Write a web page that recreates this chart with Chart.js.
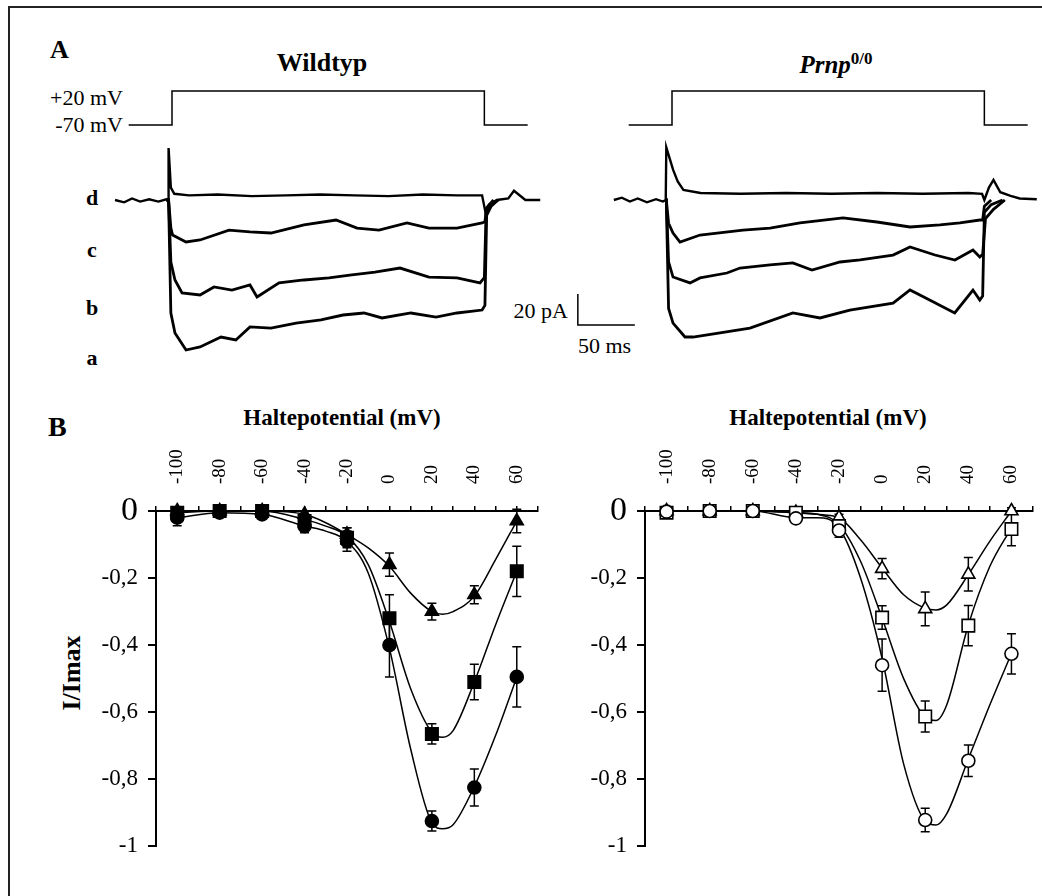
<!DOCTYPE html>
<html>
<head>
<meta charset="utf-8">
<script src="https://cdn.jsdelivr.net/npm/chart.js@4.4.0/dist/chart.umd.min.js"></script>
<style>
  body { margin:0; width:1042px; height:896px; overflow:hidden; background:#fff; position:relative;
         font-family:"Liberation Serif","Times New Roman",serif; color:#000; }
  .frame { position:absolute; left:8px; top:6px; width:1100px; height:1000px;
           border-left:2px solid #222; border-top:2px solid #222; }
  .t { position:absolute; line-height:1; white-space:nowrap; }
  .b { font-weight:bold; }
  canvas { position:absolute; }
</style>
</head>
<body>
<div class="frame"></div>

<div class="t b" style="left:50px;top:37px;font-size:26px">A</div>
<div class="t b" style="left:48px;top:413px;font-size:28px">B</div>
<div class="t b" style="left:222px;top:50px;width:200px;text-align:center;font-size:26px">Wildtyp</div>
<div class="t b" style="left:736px;top:52px;width:200px;text-align:center;font-size:25px"><i>Prnp</i><span style="font-size:17px;position:relative;top:-9px">0/0</span></div>
<div class="t" style="left:0;top:87px;width:123px;text-align:right;font-size:22px">+20 mV</div>
<div class="t" style="left:0;top:114px;width:123px;text-align:right;font-size:22px">-70 mV</div>
<div class="t b" style="left:80px;top:187px;width:24px;text-align:center;font-size:22px">d</div>
<div class="t b" style="left:80px;top:239px;width:24px;text-align:center;font-size:22px">c</div>
<div class="t b" style="left:80px;top:297px;width:24px;text-align:center;font-size:22px">b</div>
<div class="t b" style="left:80px;top:347px;width:24px;text-align:center;font-size:22px">a</div>
<div class="t" style="left:468px;top:300px;width:100px;text-align:right;font-size:22px">20 pA</div>
<div class="t" style="left:578px;top:335px;font-size:22px">50 ms</div>
<div class="t b" style="left:192px;top:406px;width:300px;text-align:center;font-size:23px">Haltepotential (mV)</div>
<div class="t b" style="left:678px;top:406px;width:300px;text-align:center;font-size:23px">Haltepotential (mV)</div>
<div class="t b" style="left:12px;top:660px;width:120px;height:26px;text-align:center;font-size:26px;transform:rotate(-90deg)">I/Imax</div>

<canvas id="traceWt" width="550" height="300" style="left:100px;top:80px"></canvas>
<canvas id="traceKo" width="442" height="300" style="left:600px;top:80px"></canvas>
<canvas id="ivWt" width="520" height="430" style="left:40px;top:440px"></canvas>
<canvas id="ivKo" width="530" height="430" style="left:530px;top:440px"></canvas>

<script>
// ---- panel A: currents (time in ms, current in pA) ----
var protT = [-38, 0, 0, 274, 274, 312];
var protV = [-70, -70, 20, 20, -70, -70];

var wtT_d = [-50,-42,-35,-28,-20,-12,-5,-3.5,-3,-1,2,15,40,70,100,130,160,190,220,250,272,275,278,285,295,300,310,323];
var wtI_d = [0,-1.5,1,-1,0.5,-1,0.5,0,33.5,8,4,3,3.5,2.5,3,3.5,3,2.5,3.5,3,3,-8,-3,0,1,6,0,0];
var wtT_c = [-5,-3,-1,0.5,12.3,24.6,50,68.4,86.8,115.8,143.9,162.3,181.6,206.1,225.4,250,272,274.5,276,282];
var wtI_c = [0,0,-18,-22.6,-27.1,-25.8,-19.4,-20.6,-21.3,-16.1,-12.9,-18.1,-19.4,-14.8,-18.1,-18.1,-14.8,-14,-5,0];
var wtT_b = [-5,-3,-1,2.6,8.8,24.6,36.8,52.6,68.4,74.6,93.9,115.8,137.7,156,178,200,225.4,250,270.2,274,275.5,280,286];
var wtI_b = [0,0,-40,-51.6,-60,-61.3,-56.1,-58.1,-54.8,-62.6,-53.5,-51.6,-50.3,-48.4,-46.5,-43.9,-49.7,-50.3,-53.5,-50,-8,-3,0];
var wtT_a = [-5,-3,-1,2.6,12.3,24.6,43,56,68.4,86.8,108.8,130.7,150,168.4,184.2,209.6,231.6,250,272,274.5,276,280,286];
var wtI_a = [0,0,-73,-85.8,-96.8,-94.8,-88.4,-90.3,-81.9,-82.6,-79.4,-77.4,-74.2,-72.9,-76.1,-72.9,-75.5,-72.9,-71,-68,-10,-4,0];

var koT_d = [-51,-44,-37,-30,-22,-14,-8,-5.5,-5,1,5,10,25,60,100,140,180,220,260,272,274,278,282,288,297,305,320];
var koI_d = [0,1.5,-1,1,-1.5,0.5,-1,0,34,19.4,12,6.5,4.5,4,4.5,4,4.5,4,4.5,4,0,8,13,5,2.6,1,0.5];
var koT_c = [-6,-5,-3,0.9,7,24.6,62.3,86,112.3,150,179.8,208.8,235,252.6,270,272.5,274,280];
var koI_c = [0,0,-15,-21.3,-27.1,-22.6,-19.4,-18.1,-14.8,-11.6,-14.2,-17.4,-16.1,-14.8,-12.9,-13,-4,0];
var koT_b = [-6,-5,-3,0.9,15.8,24.6,48.2,59.6,86,106,122.8,147.4,165,193.9,208.8,230.7,248.2,264,270,272.5,275,282,292];
var koI_b = [0,0,-40,-49.7,-53.5,-50.3,-47.1,-43.9,-41.9,-40.6,-45.2,-40,-38.7,-35.5,-30.3,-35.5,-38.7,-32.3,-36.8,-35,-12,-6,0];
var koT_a = [-6,-5,-3,0.9,11.4,18.4,42.1,68.4,106,129.8,156,193.9,208.8,226,248,264,270,272.5,274,280,290];
var koI_a = [0,0,-70,-79.4,-88.4,-88.4,-85.8,-82.6,-72.9,-76.1,-71,-66.5,-58,-64.5,-72.9,-58.1,-64.5,-62,-8,-3,0];

var barMs = 50, barPa = 20;

// ---- panel B: I/Imax vs holding potential ----
var ivX = [-100, -80, -60, -40, -20, 0, 20, 40, 60];
var xTicks = [-100, -80, -60, -40, -20, 0, 20, 40, 60];

var wtTri    = [0, 0, 0, -0.01, -0.07, -0.16, -0.30, -0.25, -0.03];
var wtTriErr = [0, 0, 0, 0.01, 0.02, 0.035, 0.025, 0.027, 0.035];
var wtSq     = [-0.005, 0, 0, -0.03, -0.08, -0.32, -0.665, -0.51, -0.18];
var wtSqErr  = [0.005, 0, 0, 0.01, 0.03, 0.07, 0.03, 0.053, 0.075];
var wtCir    = [-0.02, -0.005, -0.01, -0.045, -0.09, -0.40, -0.925, -0.825, -0.495];
var wtCirErr = [0.024, 0, 0.005, 0.02, 0.03, 0.095, 0.03, 0.055, 0.09];

var koTri    = [0, 0, 0, -0.005, -0.02, -0.172, -0.292, -0.189, 0];
var koTriErr = [0, 0, 0, 0, 0.01, 0.03, 0.05, 0.05, 0.01];
var koSq     = [-0.005, 0, 0, -0.005, -0.045, -0.318, -0.613, -0.342, -0.054];
var koSqErr  = [0.005, 0, 0, 0.005, 0.02, 0.035, 0.046, 0.06, 0.05];
var koCir    = [-0.002, 0, 0, -0.022, -0.058, -0.46, -0.922, -0.745, -0.426];
var koCirErr = [0, 0, 0, 0.01, 0.02, 0.078, 0.035, 0.047, 0.06];

// fitted curves
var fitX     = [-100, -80, -60, -40, -30, -20, -10, 0, 10, 20, 25, 30, 40, 50, 60];
var wtTriFit = [0, 0, 0, -0.01, -0.035, -0.07, -0.11, -0.165, -0.245, -0.30, -0.308, -0.30, -0.254, -0.145, -0.03];
var wtSqFit  = [-0.005, 0, 0, -0.025, -0.045, -0.075, -0.16, -0.33, -0.53, -0.66, -0.675, -0.655, -0.51, -0.34, -0.18];
var wtCirFit = [-0.02, -0.005, -0.01, -0.045, -0.06, -0.09, -0.185, -0.41, -0.71, -0.93, -0.948, -0.936, -0.822, -0.67, -0.496];
var koTriFit = [0, 0, 0, -0.005, -0.01, -0.02, -0.086, -0.17, -0.25, -0.29, -0.295, -0.28, -0.19, -0.09, 0];
var koSqFit  = [0, 0, 0, -0.005, -0.01, -0.04, -0.15, -0.32, -0.50, -0.615, -0.625, -0.578, -0.34, -0.165, -0.05];
var koCirFit = [0, 0, 0, -0.02, -0.02, -0.05, -0.2, -0.44, -0.755, -0.925, -0.937, -0.903, -0.74, -0.578, -0.425];

Chart.defaults.font.family = "'Liberation Serif', 'Times New Roman', serif";
Chart.defaults.color = '#000';

function pts(xs, ys) {
  return xs.map(function(x, i) { return {x: x, y: ys[i]}; });
}

// layout of the trace panels (pixels)
var msPx = 1.14, paPx = 1.55, mvPx = 34 / 90;
var traceH = 300, baseRow = 120, restRow = 45;

function traceChart(id, canvasLeft, canvasW, onsetX, traces, withBar) {
  var ds = traces.map(function(tr, i) {
    return {data: pts(tr[0], tr[1]), borderColor: '#000', borderWidth: i === 0 ? 2.4 : 2.8,
            pointRadius: 0, yAxisID: 'y'};
  });
  ds.push({data: pts(protT, protV), borderColor: '#000', borderWidth: 1.5, pointRadius: 0, yAxisID: 'yv'});
  if (withBar) {
    var bt = 356, bi = -60.6;
    ds.push({data: [{x: bt, y: bi}, {x: bt, y: bi - barPa}, {x: bt + barMs, y: bi - barPa}],
             borderColor: '#000', borderWidth: 1.5, pointRadius: 0, yAxisID: 'y'});
  }
  new Chart(document.getElementById(id), {
    type: 'line',
    data: {datasets: ds},
    options: {
      responsive: false, animation: false, devicePixelRatio: 1,
      layout: {padding: 0},
      plugins: {legend: {display: false}, tooltip: {enabled: false}},
      scales: {
        x: {type: 'linear', display: false, min: -(onsetX - canvasLeft) / msPx, max: (canvasLeft + canvasW - onsetX) / msPx},
        y: {display: false, min: -(traceH - baseRow) / paPx, max: baseRow / paPx},
        yv: {display: false, min: -70 - (traceH - restRow) / mvPx, max: -70 + restRow / mvPx}
      }
    }
  });
}

traceChart('traceWt', 100, 550, 172,
  [[wtT_d, wtI_d], [wtT_c, wtI_c], [wtT_b, wtI_b], [wtT_a, wtI_a]], true);
traceChart('traceKo', 600, 442, 672,
  [[koT_d, koI_d], [koT_c, koI_c], [koT_b, koI_b], [koT_a, koI_a]], false);

// error bars drawn under the markers
var errorBars = {
  id: 'errorBars',
  beforeDatasetsDraw: function(chart) {
    var ctx = chart.ctx, xs = chart.scales.x, ys = chart.scales.y;
    ctx.save();
    ctx.strokeStyle = '#000';
    ctx.lineWidth = 1.5;
    chart.data.datasets.forEach(function(d) {
      if (!d.errors) return;
      d.data.forEach(function(p, i) {
        var e = d.errors[i];
        if (!e) return;
        var px = xs.getPixelForValue(p.x);
        var y1 = ys.getPixelForValue(p.y - e), y2 = ys.getPixelForValue(p.y + e);
        ctx.beginPath();
        ctx.moveTo(px, y1); ctx.lineTo(px, y2);
        ctx.moveTo(px - 4.5, y1); ctx.lineTo(px + 4.5, y1);
        ctx.moveTo(px - 4.5, y2); ctx.lineTo(px + 4.5, y2);
        ctx.stroke();
      });
    });
    ctx.restore();
  }
};

function markerSet(y, err, style, r, filled) {
  return {data: pts(ivX, y), errors: err, showLine: false, pointStyle: style, pointRadius: r,
          pointBackgroundColor: filled ? '#000' : '#fff', pointBorderColor: '#000',
          pointBorderWidth: 1.6, clip: false, order: 0};
}
function fitSet(y) {
  return {data: pts(fitX, y), showLine: true, pointRadius: 0, borderColor: '#000', borderWidth: 1.5,
          cubicInterpolationMode: 'monotone', clip: false, order: 1};
}

var xLabelSize = 19;

function ivChart(id, axisW, padRight, sets) {
  new Chart(document.getElementById(id), {
    type: 'scatter',
    data: {datasets: sets},
    plugins: [errorBars],
    options: {
      responsive: false, animation: false, devicePixelRatio: 1,
      layout: {padding: {left: 0, top: 0, right: padRight, bottom: 22}},
      plugins: {legend: {display: false}, tooltip: {enabled: false}},
      scales: {
        x: {
          type: 'linear', position: 'top', min: -110, max: 70,
          border: {display: true, color: '#000', width: 2},
          grid: {drawOnChartArea: false, drawTicks: true, tickLength: 5, color: '#000', lineWidth: 1.5},
          // rotated labels on a top axis sit one line height off the tick, so shift them back
          ticks: {stepSize: 10, autoSkip: false, minRotation: 90, maxRotation: 90, padding: 22,
                  labelOffset: xLabelSize * 1.2,
                  font: {size: xLabelSize},
                  callback: function(v) { return xTicks.indexOf(v) >= 0 ? String(v) : ''; }},
          afterFit: function(s) { s.height = 71; }
        },
        y: {
          min: -1, max: 0, position: 'left',
          border: {display: true, color: '#000', width: 2},
          grid: {drawOnChartArea: false, tickLength: 8, color: '#000', lineWidth: 2},
          ticks: {stepSize: 0.2, padding: 10,
                  font: function(c) { return {size: (c.tick && Math.abs(c.tick.value) < 1e-9) ? 34 : 23}; },
                  callback: function(v) {
                    var r = Math.round(v * 10) / 10;
                    return r === 0 ? '0' : String(r).replace('.', ',');
                  }},
          afterFit: function(s) { s.width = axisW; }
        }
      }
    }
  });
}

ivChart('ivWt', 116, 15, [
  markerSet(wtCir, wtCirErr, 'circle', 6.5, true),
  markerSet(wtSq, wtSqErr, 'rect', 8.8, true),
  markerSet(wtTri, wtTriErr, 'triangle', 7.5, true),
  fitSet(wtCirFit), fitSet(wtSqFit), fitSet(wtTriFit)
]);
ivChart('ivKo', 115, 27, [
  markerSet(koCir, koCirErr, 'circle', 6.5, false),
  markerSet(koSq, koSqErr, 'rect', 8.8, false),
  markerSet(koTri, koTriErr, 'triangle', 7.5, false),
  fitSet(koCirFit), fitSet(koSqFit), fitSet(koTriFit)
]);
</script>
</body>
</html>
